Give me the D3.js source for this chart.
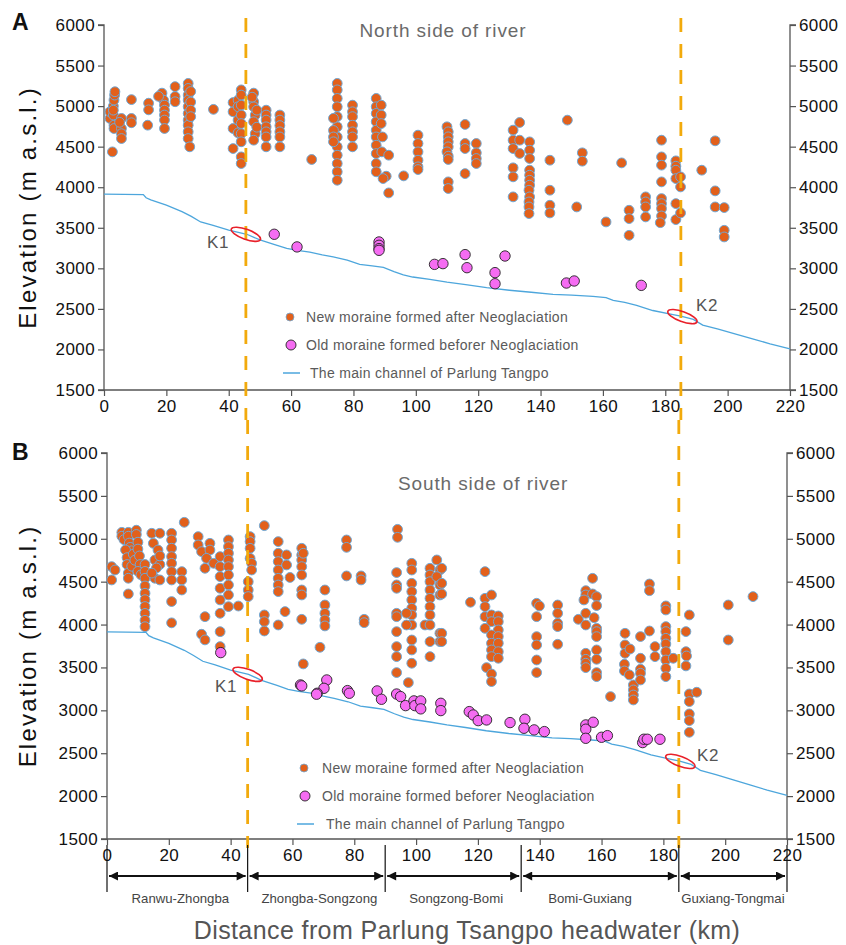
<!DOCTYPE html>
<html><head><meta charset="utf-8">
<script src="https://cdn.jsdelivr.net/npm/d3@7"></script>
<style>
html,body{margin:0;padding:0;background:#fff;}
svg{display:block;font-family:"Liberation Sans",Arial,sans-serif;}
</style></head>
<body><svg id="chart" width="846" height="945"></svg>
<script>
// ---------- DATA ----------
const xTicks = [0,20,40,60,80,100,120,140,160,180,200,220];
const yTicks = [1500,2000,2500,3000,3500,4000,4500,5000,5500,6000];
const boundaryKm = [45.5, 185];
const regionKm = [0, 45.5, 90, 134, 185, 220];
const regionNames = ["Ranwu-Zhongba","Zhongba-Songzong","Songzong-Bomi","Bomi-Guxiang","Guxiang-Tongmai"];
const legendLabels = ["New moraine formed after Neoglaciation","Old moraine formed beforer Neoglaciation","The main channel of Parlung Tangpo"];

// river profile [km, elevation]
const river = [[0,3915],[12.6,3910],[13.5,3870],[15,3845],[20,3780],[25,3700],[28,3640],[31,3572],[35,3530],[40,3470],[45.8,3420],[50,3350],[55,3290],[58.6,3245],[62,3222],[66,3200],[70,3165],[73.5,3140],[78,3100],[82,3050],[86,3030],[89.6,3012],[93,2960],[96,2920],[99,2893],[104.5,2864],[110,2830],[116,2800],[122.7,2762],[130,2730],[137,2705],[144,2680],[150,2670],[156.8,2654],[161,2640],[163.3,2605],[167,2580],[170.8,2543],[176,2480],[182.5,2428],[185,2410],[189,2370],[192,2300],[197,2250],[202.9,2185],[208,2130],[213.6,2070],[220,2008]];

// North side: new moraine [km, elevation]
const northNew = [[2.7,4436],[1.9,4848],[1.9,4930],[3.0,5000],[3.2,5074],[3.4,5136],[3.5,5177],[3.2,4765],[3.2,4724],[3.0,4890],[3.0,4950],[5.6,4848],[5.6,4724],[5.6,4660],[5.6,4600],[5.0,4800],[8.8,5080],[8.8,4848],[8.8,4795],[14.3,5036],[14.3,4954],[14.0,4765],[18.6,5160],[19.1,5074],[19.4,5012],[19.4,4950],[19.4,4890],[19.4,4828],[19.4,4724],[17.5,5120],[22.8,5240],[22.8,5118],[22.8,5054],[27.0,5280],[27.0,5218],[27.0,5136],[27.0,5074],[27.0,4992],[27.0,4910],[27.0,4828],[27.0,4765],[27.0,4683],[27.0,4600],[27.5,4498],[27.8,5180],[27.8,5050],[27.8,4950],[27.8,4870],[35.1,4960],[41.4,5044],[41.4,4930],[41.4,4724],[41.4,4477],[43,5074],[43,4992],[43,4828],[43,4670],[44,5200],[44,5136],[44,5012],[44,4890],[44,4785],[44,4660],[44,4560],[44,4374],[44,4292],[48,5160],[48,5054],[48,4992],[48.5,4890],[48,4807],[48.5,4660],[48,4580],[47.5,5110],[49,4950],[49,4740],[52,4950],[52,4890],[52,4828],[52,4745],[52,4683],[52,4620],[52,4498],[56.4,4890],[56.4,4828],[56.4,4760],[56.4,4683],[56.4,4620],[56.4,4498],[66.6,4342],[74.8,5280],[74.8,5200],[74.8,5095],[74.8,4992],[74.8,4870],[74.8,4745],[74.8,4620],[74.8,4498],[74.8,4395],[74.8,4292],[74.8,4190],[74.8,4086],[73.6,4850],[73.6,4700],[73.6,4620],[73.6,4560],[79.7,5012],[79.7,4930],[79.7,4870],[79.7,4765],[79.7,4683],[79.7,4620],[79.7,4498],[87.3,5095],[87.3,4992],[87.3,4910],[87.3,4807],[87.3,4704],[87.3,4620],[87.3,4518],[87.3,4415],[87.3,4292],[87.3,4190],[88.9,5012],[88.9,4890],[88.9,4785],[89.3,4620],[89.1,4436],[91.3,4395],[90.5,4136],[89.5,4107],[91.3,3930],[96.1,4140],[100.7,4642],[100.7,4539],[100.7,4436],[100.7,4333],[100.7,4251],[100.7,4218],[110,4745],[110.4,4683],[110.4,4621],[110.4,4560],[110.4,4498],[110,4436],[110.4,4383],[110.4,4342],[110.4,4066],[110.4,3984],[115.8,4774],[115.8,4539],[115.8,4477],[119.4,4539],[119.4,4424],[119.4,4354],[119.4,4292],[115.8,4168],[133.3,4798],[131.2,4704],[131.2,4580],[133.3,4580],[131.2,4477],[136.5,4559],[136.5,4457],[136.5,4354],[133.3,4416],[131.2,4239],[131.2,4128],[131.2,3881],[136.5,4210],[136.5,4148],[136.5,4086],[136.5,4025],[136.3,3963],[136.5,3881],[136.3,3819],[136.3,3757],[136.3,3675],[143,4333],[143,3963],[143,3778],[143,3683],[148.6,4827],[153.4,4424],[153.4,4321],[151.6,3757],[161,3572],[166,4300],[168.4,3716],[168.4,3613],[168.4,3407],[173.7,3881],[173.7,3819],[173.7,3757],[173.7,3634],[178.8,4580],[178.8,4374],[178.8,4272],[178.8,4066],[178.8,3860],[178.8,3798],[178.8,3737],[178.8,3646],[178.4,3563],[183.4,4325],[183.4,4259],[183.4,4210],[183.4,4107],[183.4,3798],[183.4,3601],[184.9,4128],[184.9,4004],[184.9,3683],[191.7,4210],[196,4572],[196,3955],[196,3757],[198.9,3749],[198.9,3469],[198.9,3387]];

// North side: old moraine
const northOld = [[54.6,3420],[61.9,3264],[88.2,3325],[88.2,3284],[88.2,3243],[88.2,3222],[106,3049],[108.7,3058],[115.8,3169],[116.4,3008],[125.4,2947],[125.4,2810],[128.6,3152],[148.3,2819],[150.8,2844],[172.3,2790]];

// South side: new moraine
const southNew = [[1.5,4675],[1.5,4520],[2.6,4636],[4.8,5075],[4.8,5030],[5.5,4990],[6.9,5075],[6.9,5030],[7.2,4950],[7.5,4900],[8.0,4860],[9.5,5100],[9.5,5050],[10.0,4960],[6.0,4870],[6.5,4780],[6.5,4700],[6.9,4600],[6.9,4540],[6.9,4357],[8.0,4680],[8.5,4820],[9.0,4750],[10.0,4880],[10.5,4800],[10.7,4700],[10.0,4620],[11.0,4580],[12.3,4700],[12.3,4620],[12.3,4540],[12.3,4450],[12.3,4365],[12.3,4290],[12.3,4210],[12.3,4130],[12.3,4050],[12.3,3975],[14.5,5064],[17.1,5064],[15.0,4947],[16.5,4869],[15.5,4753],[17.1,4700],[15.5,4540],[17.1,4520],[16.0,4660],[17.1,4800],[14.5,4600],[20.9,5064],[20.9,4986],[20.9,4890],[20.9,4792],[20.9,4714],[20.9,4617],[20.9,4520],[20.9,4268],[20.9,4020],[24.2,4617],[24.2,4520],[24.2,4403],[25,5192],[29.5,5025],[29.5,4928],[30.6,4850],[33.3,4947],[33.3,4869],[32.2,4772],[31.7,4656],[34.5,4714],[36.6,4792],[36.6,4675],[36.6,4559],[36.6,4423],[36.6,4287],[36.6,4131],[36.6,3917],[36.6,3743],[39.3,4986],[39.3,4908],[39.3,4831],[39.3,4753],[39.3,4675],[39.3,4578],[39.3,4462],[39.3,4345],[39.3,4209],[42.5,4216],[31.7,4092],[30.6,3887],[31.7,3821],[46.3,5025],[46.3,4967],[46.3,4889],[46.3,4772],[46.8,4714],[46.8,4636],[45.7,4500],[45.7,4403],[45.7,4326],[50.9,5153],[55.4,4967],[55.4,4831],[55.4,4734],[55.4,4636],[55.4,4539],[55.4,4461],[55.4,4384],[58.1,4812],[58.1,4695],[59.2,4549],[50.9,4112],[50.9,4034],[50.9,3925],[55.4,3995],[57.6,4151],[63,4889],[63,4811],[63,4753],[63,4675],[63,4578],[63.5,4831],[63,4403],[63,4345],[63,4061],[63.5,3541],[68.9,3735],[70.5,4403],[70.5,4228],[70.5,4131],[70.5,4054],[70.5,3984],[77.5,4986],[77.5,4900],[77.5,4567],[82.2,4567],[82.2,4520],[83.2,4061],[83.2,4022],[94,5110],[94,5017],[93.7,4606],[93.7,4462],[93.7,4423],[93.7,4131],[93.7,4092],[93.7,3917],[93.7,3743],[93.7,3626],[93.7,3440],[97.5,3323],[98.6,4714],[98.6,4636],[98.6,4481],[98.6,4384],[98.6,4287],[98.6,4190],[98.6,4112],[98.6,3995],[98.6,3820],[98.6,3704],[98.6,3549],[96.9,4131],[96.9,3995],[102.9,3995],[104.5,4656],[104.5,4578],[104.5,4500],[104.5,4403],[104.5,4306],[104.5,4209],[104.5,4112],[104.5,3995],[104.5,3801],[104.5,3626],[106.7,4753],[107.7,4636],[106.7,4559],[107.7,4462],[107.7,4345],[107.7,3898],[107.7,3801],[108.3,4656],[108.3,4481],[108.3,4357],[108.3,3898],[108.3,3801],[117.6,4260],[122.3,4617],[122.3,4306],[124.4,4345],[122.3,4209],[122.3,4092],[124.4,4112],[126.6,4100],[124.4,4034],[126.6,4034],[122.3,3956],[126.6,3937],[124.4,3879],[126.6,3860],[124.4,3782],[126.6,3782],[124.4,3704],[126.6,3684],[124.4,3626],[126.6,3607],[122.8,3498],[124.4,3424],[124.4,3335],[139,4248],[139.9,4217],[139,4092],[139,3859],[139,3762],[139,3587],[139,3440],[145.8,4228],[145.8,4131],[145.8,4015],[145.8,3976],[145.8,3770],[152.5,4061],[154.9,4395],[154.9,4345],[154.3,4287],[157.1,4539],[157.1,4357],[158.4,4326],[158.4,4221],[154.9,4131],[154.9,3995],[157.6,4080],[158.4,3956],[158.4,3917],[158.4,3859],[154.9,3665],[154.9,3595],[154.9,3549],[154.9,3498],[158.4,3704],[158.4,3595],[158.4,3440],[158.4,3393],[162.9,3160],[167.6,3898],[167.6,3762],[167.6,3665],[169.2,3715],[167.4,3537],[167.4,3459],[169,3413],[170.3,3296],[170.3,3238],[170.3,3179],[170.3,3121],[172.6,3860],[172.6,3607],[172.6,3479],[172.6,3432],[172.6,3354],[175.5,4473],[175.5,4395],[175.5,3925],[177.3,3743],[177.3,3626],[180.8,4217],[180.8,4170],[180.8,3976],[180.8,3918],[180.8,3840],[180.8,3774],[180.8,3684],[180.8,3587],[180.8,3490],[180.8,3393],[183.2,3607],[188.4,4112],[187.3,3918],[187.3,3684],[187.5,3634],[187.3,3518],[188.4,3191],[190.8,3211],[188.4,3102],[188.4,2958],[188.4,2880],[188.4,2744],[201,4228],[201,3820],[209,4326]];

// South side: old moraine
const southOld = [[36.8,3673],[62.6,3296],[63,3285],[71.1,3354],[70.2,3257],[68.0,3199],[67.8,3188],[77.8,3230],[78.4,3199],[87.4,3226],[88.8,3129],[93.7,3190],[95,3160],[96.6,3055],[99.3,3110],[99.6,3055],[101.5,3110],[101.5,3017],[108,3082],[108,2997],[117.2,2985],[118.5,2946],[120.1,2880],[122.8,2888],[130.4,2857],[135.2,2896],[134.9,2791],[138.2,2772],[141.5,2752],[154.9,2830],[154.9,2780],[154.9,2674],[157.3,2861],[160,2686],[161.9,2705],[173.3,2624],[173.7,2663],[174.8,2663],[178.9,2663]];

// ---------- DRAW ----------
const svg = d3.select("#chart");
const C = {newFill:"#E2601B", newStroke:"#6FA8D6", oldFill:"#F56CF2", oldStroke:"#222",
           river:"#4DA6DC", dash:"#F2AA0C", axis:"#555", grey:"#5a5a5a"};

const panels = [
  {id:"A", title:"North side of river", x0:104, x1:790, yTop:25, yBot:390, newPts:northNew, oldPts:northOld,
   titleX:443, titleY:37, labelY:22, legX:290, legY:317, legTextX:306, dashTop:18, dashBot:420,
   k1Label:[218,248], k2Label:[707,311]},
  {id:"B", title:"South side of river", x0:107, x1:787, yTop:453, yBot:839, newPts:southNew, oldPts:southOld,
   titleX:483, titleY:490, labelY:452, legX:304, legY:768, legTextX:322, dashTop:420, dashBot:848,
   k1Label:[226,692], k2Label:[708,761]}
];

panels.forEach(p => {
  const x = d3.scaleLinear().domain([0,220]).range([p.x0,p.x1]);
  const y = d3.scaleLinear().domain([1500,6000]).range([p.yBot,p.yTop]);
  const g = svg.append("g");

  // axes
  const axL = g.append("g").attr("transform",`translate(${p.x0},0)`)
    .call(d3.axisLeft(y).tickValues(yTicks).tickSize(6).tickPadding(3).tickFormat(d3.format("d")));
  const axR = g.append("g").attr("transform",`translate(${p.x1},0)`)
    .call(d3.axisRight(y).tickValues(yTicks).tickSize(6).tickPadding(3).tickFormat(d3.format("d")));
  const axB = g.append("g").attr("transform",`translate(0,${p.yBot})`)
    .call(d3.axisBottom(x).tickValues(xTicks).tickSize(6).tickPadding(4).tickFormat(d3.format("d")));
  [axL,axR,axB].forEach(a=>{
    a.select(".domain").attr("stroke",C.axis).attr("stroke-width",1.3);
    a.selectAll(".tick line").attr("stroke",C.axis).attr("stroke-width",1.2);
    a.selectAll("text").attr("fill","#111").style("font-size","17px").style("letter-spacing","0.4px")
      .style("font-family","Liberation Sans, Arial, sans-serif");
  });
  axL.select(".domain").attr("d",`M-6,${p.yTop}H0V${p.yBot}H-6`);
  axR.select(".domain").attr("d",`M6,${p.yTop}H0V${p.yBot}H6`);
  axB.select(".domain").attr("d",`M${p.x0},0H${p.x1}`);

  // panel label & title
  svg.append("text").attr("x",12).attr("y",p.labelY+8).text(p.id)
    .style("font-size","23px").style("font-weight","bold").attr("fill","#111");
  svg.append("text").attr("x",p.titleX).attr("y",p.titleY).attr("text-anchor","middle").text(p.title)
    .style("font-size","19px").attr("fill","#6a6a6a").style("letter-spacing","0.9px");

  // y title
  svg.append("text").attr("transform",`translate(36,${(p.yTop+p.yBot)/2}) rotate(-90)`)
    .attr("text-anchor","middle").text("Elevation (m a.s.l.)")
    .style("font-size","24px").style("letter-spacing","2.2px").attr("fill","#111");

  // river
  const line = d3.line().x(d=>x(d[0])).y(d=>y(d[1]));
  g.append("path").datum(river).attr("d",line).attr("fill","none")
    .attr("stroke",C.river).attr("stroke-width",1.3);

  // new moraine
  g.append("g").selectAll("circle").data(p.newPts).join("circle")
    .attr("cx",d=>x(d[0])).attr("cy",d=>y(d[1])).attr("r",4.9)
    .attr("fill",C.newFill).attr("stroke",C.newStroke).attr("stroke-width",1);
  // old moraine
  g.append("g").selectAll("circle").data(p.oldPts).join("circle")
    .attr("cx",d=>x(d[0])).attr("cy",d=>y(d[1])).attr("r",5.2)
    .attr("fill",C.oldFill).attr("stroke",C.oldStroke).attr("stroke-width",0.9);

  // dashed boundaries
  boundaryKm.forEach(k=>{
    g.append("line").attr("x1",x(k)).attr("x2",x(k)).attr("y1",p.dashTop).attr("y2",p.dashBot)
      .attr("stroke",C.dash).attr("stroke-width",2.8).attr("stroke-dasharray","14,12");
  });

  // K ellipses
  const kPts = [[45.5, 3420],[185.5, 2405]];
  kPts.forEach(k=>{
    g.append("ellipse").attr("cx",x(k[0])).attr("cy",y(k[1])).attr("rx",15.5).attr("ry",5)
      .attr("transform",`rotate(20,${x(k[0])},${y(k[1])})`)
      .attr("fill","none").attr("stroke","#E8202A").attr("stroke-width",1.6);
  });
  g.append("text").attr("x",p.k1Label[0]).attr("y",p.k1Label[1]).attr("text-anchor","middle").text("K1")
    .style("font-size","17px").style("letter-spacing","0.5px").attr("fill","#555");
  g.append("text").attr("x",p.k2Label[0]).attr("y",p.k2Label[1]).attr("text-anchor","middle").text("K2")
    .style("font-size","17px").style("letter-spacing","0.5px").attr("fill","#555");

  // legend
  const lg = g.append("g");
  lg.append("circle").attr("cx",p.legX).attr("cy",p.legY).attr("r",4)
    .attr("fill",C.newFill).attr("stroke",C.newStroke).attr("stroke-width",0.8);
  lg.append("circle").attr("cx",p.legX+1).attr("cy",p.legY+28).attr("r",5)
    .attr("fill",C.oldFill).attr("stroke",C.oldStroke).attr("stroke-width",0.9);
  lg.append("line").attr("x1",p.legX-7).attr("x2",p.legX+10).attr("y1",p.legY+56).attr("y2",p.legY+56)
    .attr("stroke",C.river).attr("stroke-width",1.5);
  legendLabels.forEach((t,i)=>{
    lg.append("text").attr("x",p.legTextX + (i===2?4:0)).attr("y",p.legY+5+i*28).text(t)
      .style("font-size","14px").attr("fill","#5a5a5a").style("letter-spacing","0.3px");
  });

  // bottom region annotation for panel B
  if (p.id==="B") {
    const ya = 876;
    const labelShift = [3,3,3,-10,0];
    regionKm.forEach(k=>{
      svg.append("line").attr("x1",x(k)).attr("x2",x(k)).attr("y1",845).attr("y2",892)
        .attr("stroke","#111").attr("stroke-width",1.2);
    });
    const defs = svg.append("defs");
    defs.append("marker").attr("id","ah").attr("viewBox","0 0 10 10").attr("refX",10).attr("refY",5)
      .attr("markerWidth",11).attr("markerHeight",9).attr("markerUnits","userSpaceOnUse").attr("orient","auto-start-reverse")
      .append("path").attr("d","M0,0L10,5L0,10Z").attr("fill","#111");
    for (let i=0;i<regionNames.length;i++){
      const a = x(regionKm[i])+2, b = x(regionKm[i+1])-2;
      svg.append("line").attr("x1",a).attr("x2",b).attr("y1",ya).attr("y2",ya)
        .attr("stroke","#111").attr("stroke-width",2)
        .attr("marker-start","url(#ah)").attr("marker-end","url(#ah)");
      svg.append("text").attr("x",(a+b)/2+labelShift[i]).attr("y",903).attr("text-anchor","middle").text(regionNames[i])
        .style("font-size","13.2px").attr("fill","#444");
    }
    svg.append("text").attr("x",467).attr("y",939).attr("text-anchor","middle")
      .text("Distance from Parlung Tsangpo headwater (km)")
      .style("font-size","25px").style("letter-spacing","0.4px").attr("fill","#555");
  }
});
</script>
</body></html>
